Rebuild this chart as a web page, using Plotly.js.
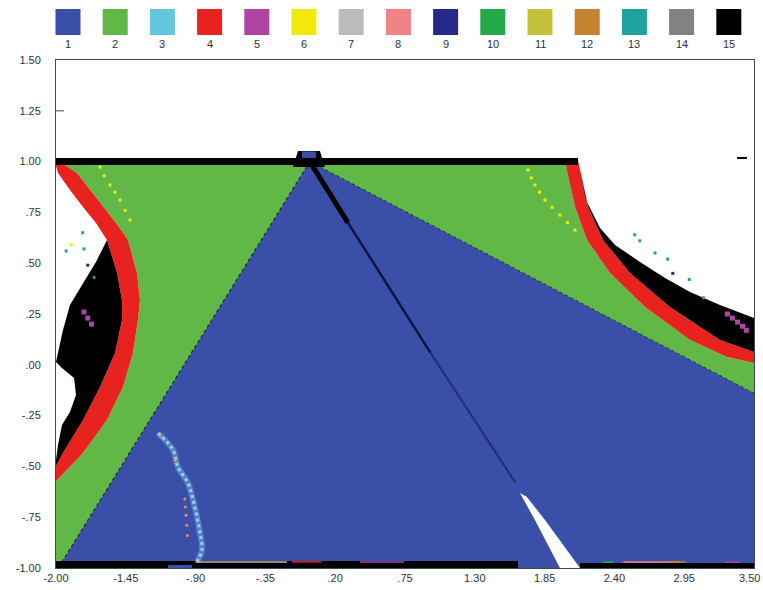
<!DOCTYPE html>
<html>
<head>
<meta charset="utf-8">
<script src="https://cdn.plot.ly/plotly-3.0.1.min.js"></script>
<style>
html,body{margin:0;padding:0;background:#fff;}
#chart{width:763px;height:590px;}
</style>
</head>
<body>
<div id="chart"></div>
<script>
// ---------- axis ticks ----------
const xTickVals = [-2, -1.45, -0.9, -0.35, 0.2, 0.75, 1.3, 1.85, 2.4, 2.95, 3.5];
const xTickText = ['-2.00', '-1.45', '-.90', '-.35', '.20', '.75', '1.30', '1.85', '2.40', '2.95', '3.50'];
const yTickVals = [-1, -0.75, -0.5, -0.25, 0, 0.25, 0.5, 0.75, 1, 1.25, 1.5];
const yTickText = ['-1.00', '-.75', '-.50', '-.25', '.00', '.25', '.50', '.75', '1.00', '1.25', '1.50'];

// ---------- class legend ----------
const classLabels = ['1','2','3','4','5','6','7','8','9','10','11','12','13','14','15'];
const classColors = ['#3a4fa8','#62b846','#62c6dc','#e8231f','#b044a4','#f2ea0a','#bbbbbb','#f08484',
                     '#252a8a','#22aa48','#c4c23a','#c4832e','#21a2a2','#828282','#000000'];

// ---------- region boundaries ----------
// left red arc (class 4)
const leftRedOuterX = [-2.00, -1.953, -1.835, -1.732, -1.630, -1.527, -1.433, -1.362, -1.338, -1.354, -1.393, -1.472, -1.598, -1.787, -1.968, -2.00];
const leftRedOuterY = [1.008, 0.993, 0.944, 0.860, 0.777, 0.698, 0.614, 0.452, 0.319, 0.220, 0.058, -0.109, -0.272, -0.434, -0.552, -0.572];
const leftRedInnerX = [-2.00, -1.984, -1.890, -1.787, -1.685, -1.598, -1.519, -1.480, -1.480, -1.535, -1.653, -1.787, -1.945, -2.00];
const leftRedInnerY = [0.978, 0.944, 0.860, 0.777, 0.698, 0.614, 0.452, 0.319, 0.220, 0.058, -0.109, -0.272, -0.434, -0.498];
// left black (class 15) outer boundary (white side)
const leftBlackX = [-1.598, -1.685, -1.795, -1.890, -1.945, -1.984, -2.00, -1.953, -1.858, -1.842, -1.890, -1.953, -1.984, -2.00];
const leftBlackY = [0.614, 0.506, 0.393, 0.294, 0.171, 0.048, 0.014, -0.016, -0.065, -0.149, -0.232, -0.296, -0.395, -0.469];
// right red arc (class 4)
const rightRedOuterX = [2.011, 2.026, 2.090, 2.184, 2.365, 2.641, 2.996, 3.287, 3.50];
const rightRedOuterY = [1.008, 0.959, 0.777, 0.614, 0.452, 0.284, 0.122, 0.038, 0.009];
const rightRedInnerX = [2.113, 2.129, 2.192, 2.310, 2.523, 2.838, 3.232, 3.50];
const rightRedInnerY = [1.008, 0.959, 0.777, 0.614, 0.452, 0.284, 0.122, 0.063];
// right black (class 15) outer boundary
const rightBlackX = [2.129, 2.176, 2.287, 2.405, 2.602, 2.799, 2.996, 3.232, 3.50];
const rightBlackY = [0.959, 0.811, 0.673, 0.590, 0.506, 0.427, 0.358, 0.294, 0.230];
// blue wedge (class 1)
const blueX = [0.0, 3.5, 3.5, -1.982];
const blueY = [1.0, -0.14, -1.0, -1.0];
// top black band at y = 1
const topBandX = [-2.0, 2.113];
const topBandY = [0.983, 1.018];
// apex cap
const apexCapX = [-0.133, -0.093, 0.080, 0.119];
const apexCapY = [0.973, 1.052, 1.052, 0.973];
const apexBlueX = [-0.062, 0.048];
const apexBlueY = [1.018, 1.050];
// dark diagonal
const diagX = [0.0, 0.30, 0.95, 1.62];
const diagY = [1.0, 0.70, 0.06, -0.58];
// white streak
const streakX = [1.656, 1.711, 1.853, 2.129, 1.971, 1.774];
const streakY = [-0.631, -0.651, -0.764, -1.0, -1.0, -0.764];
// bottom black band
const bottomLeftX = [-2.0, 1.640];
const bottomLeftY = [-1.0, -0.966];
const bottomRightX = [2.129, 3.5];
const bottomRightY = [-1.0, -0.976];
const bottomBlueX = [-1.117, -0.928];
const bottomBlueY = [-1.0, -0.985];
// light cyan streak (class 3)
const cyanX = [-1.196, -1.078, -1.039, -0.960, -0.920, -0.889, -0.865, -0.850, -0.889];
const cyanY = [-0.336, -0.419, -0.503, -0.582, -0.665, -0.749, -0.828, -0.911, -0.970];
const orangeDotX = [-1.18, -1.06, -0.985, -0.98, -0.975, -0.97, -0.965];
const orangeDotY = [-0.35, -0.47, -0.66, -0.70, -0.74, -0.79, -0.84];
// yellow dotted traces (class 6)
const yellowLX = [-1.653, -1.62, -1.574, -1.535, -1.496, -1.455, -1.417];
const yellowLY = [0.973, 0.93, 0.885, 0.85, 0.811, 0.76, 0.713];
const yellowRX = [1.719, 1.745, 1.774, 1.81, 1.853, 1.91, 1.971, 2.03, 2.090];
const yellowRY = [0.959, 0.92, 0.885, 0.85, 0.811, 0.775, 0.737, 0.70, 0.663];
// magenta patches (class 5)
const magentaX = [-1.78, -1.75, -1.72, 3.29, 3.33, 3.37, 3.41, 3.44];
const magentaY = [0.26, 0.23, 0.20, 0.25, 0.23, 0.21, 0.19, 0.17];
// scattered dots in the white area
const dotX = [-1.88, -1.79, -1.78, -1.75, -1.92, -1.70, 2.56, 2.60, 2.72, 2.82, 2.86, 2.99, 3.10];
const dotY = [0.59, 0.65, 0.57, 0.49, 0.56, 0.43, 0.64, 0.61, 0.55, 0.52, 0.45, 0.42, 0.33];
const dotC = ['#f2ea0a','#21a2a2','#21a2a2','#252a8a','#21a2a2','#22aa48','#21a2a2','#21a2a2','#21a2a2','#21a2a2','#252a8a','#21a2a2','#21a2a2'];
// coloured runs along the bottom band
const runX0 = [-0.90, -0.14, 0.395, 2.31, 2.47, 2.85, 3.27];
const runX1 = [-0.18, 0.088, 0.742, 2.39, 2.92, 2.96, 3.39];
const runC  = ['#c8b890', '#e8231f', '#b044a4', '#22aa48', '#f08484', '#c4832e', '#b044a4'];

// ---------- build traces ----------
function poly(xs, ys, color) {
  return {x: xs.concat([xs[0]]), y: ys.concat([ys[0]]), type: 'scatter', mode: 'lines',
          fill: 'toself', fillcolor: color, line: {width: 0, color: color},
          hoverinfo: 'skip', showlegend: false};
}
function rect(xr, yr, color) {
  return poly([xr[0], xr[1], xr[1], xr[0]], [yr[0], yr[0], yr[1], yr[1]], color);
}
function rev(a) { return a.slice().reverse(); }

const traces = [];
// green background region
traces.push(poly(
  leftRedOuterX.concat([-2.0, 3.5]).concat(rev(rightRedOuterX)),
  leftRedOuterY.concat([-1.0, -1.0]).concat(rev(rightRedOuterY)),
  classColors[1]));
// blue wedge
traces.push(poly(blueX, blueY, classColors[0]));
// blue/green boundary edges
traces.push({x: [blueX[0], blueX[3]], y: [blueY[0], blueY[3]], type: 'scatter', mode: 'lines',
  line: {color: '#123018', width: 1.2, dash: 'dot'}, hoverinfo: 'skip', showlegend: false});
traces.push({x: [blueX[0], blueX[1]], y: [blueY[0], blueY[1]], type: 'scatter', mode: 'lines',
  line: {color: '#1c3a2a', width: 1, dash: 'dot'}, hoverinfo: 'skip', showlegend: false});
// white streak
traces.push(poly(streakX, streakY, '#ffffff'));
// red arcs
traces.push(poly(leftRedOuterX.concat(rev(leftRedInnerX)), leftRedOuterY.concat(rev(leftRedInnerY)), classColors[3]));
traces.push(poly(rightRedOuterX.concat(rev(rightRedInnerX)), rightRedOuterY.concat(rev(rightRedInnerY)), classColors[3]));
// black regions
traces.push(poly(leftBlackX.concat(rev(leftRedInnerX.slice(5))), leftBlackY.concat(rev(leftRedInnerY.slice(5))), '#000000'));
traces.push(poly(rightBlackX.concat(rev(rightRedInnerX.slice(1))), rightBlackY.concat(rev(rightRedInnerY.slice(1))), '#000000'));
// bands
traces.push(rect(topBandX, topBandY, '#000000'));
traces.push(rect(bottomLeftX, bottomLeftY, '#000000'));
traces.push(rect(bottomRightX, bottomRightY, '#000000'));
traces.push(rect(bottomBlueX, bottomBlueY, classColors[0]));
// apex
traces.push(poly(apexCapX, apexCapY, '#000000'));
traces.push(rect(apexBlueX, apexBlueY, classColors[0]));
// diagonal dark line
traces.push({x: diagX.slice(0, 2), y: diagY.slice(0, 2), type: 'scatter', mode: 'lines',
  line: {color: '#000000', width: 5}, hoverinfo: 'skip', showlegend: false});
traces.push({x: diagX.slice(1, 3), y: diagY.slice(1, 3), type: 'scatter', mode: 'lines',
  line: {color: '#0e1440', width: 2.5}, hoverinfo: 'skip', showlegend: false});
traces.push({x: diagX.slice(2, 4), y: diagY.slice(2, 4), type: 'scatter', mode: 'lines',
  line: {color: '#1f2f78', width: 2}, hoverinfo: 'skip', showlegend: false});
// cyan streak (speckled)
traces.push({x: cyanX, y: cyanY, type: 'scatter', mode: 'lines', line: {color: '#7fb8e8', width: 6, shape: 'spline'},
  opacity: 0.45, hoverinfo: 'skip', showlegend: false});
traces.push({x: cyanX, y: cyanY, type: 'scatter', mode: 'lines', line: {color: '#8fe0f4', width: 3, shape: 'spline', dash: 'dot'},
  opacity: 0.9, hoverinfo: 'skip', showlegend: false});
traces.push({x: orangeDotX, y: orangeDotY, type: 'scatter', mode: 'markers',
  marker: {color: '#e89050', size: 3}, hoverinfo: 'skip', showlegend: false});
// yellow dotted traces
traces.push({x: yellowLX.concat([null]).concat(yellowRX), y: yellowLY.concat([null]).concat(yellowRY),
  type: 'scatter', mode: 'markers', marker: {color: classColors[5], size: 3, symbol: 'square'},
  hoverinfo: 'skip', showlegend: false});
// magenta patches
traces.push({x: magentaX, y: magentaY, type: 'scatter', mode: 'markers',
  marker: {color: classColors[4], size: 5, symbol: 'square'}, hoverinfo: 'skip', showlegend: false});
// scattered dots
traces.push({x: dotX, y: dotY, type: 'scatter', mode: 'markers',
  marker: {color: dotC, size: 3, symbol: 'square'}, hoverinfo: 'skip', showlegend: false});
// coloured runs along bottom band
for (let i = 0; i < runX0.length; i++) {
  traces.push({x: [runX0[i], runX1[i]], y: [-0.97, -0.97], type: 'scatter', mode: 'lines',
    line: {color: runC[i], width: 1.5}, hoverinfo: 'skip', showlegend: false});
}
// small marks
traces.push({x: [3.366, 3.445], y: [1.018, 1.018], type: 'scatter', mode: 'lines',
  line: {color: '#000000', width: 2}, hoverinfo: 'skip', showlegend: false});
traces.push({x: [-2.0, -1.937], y: [1.25, 1.25], type: 'scatter', mode: 'lines',
  line: {color: '#3a4a55', width: 1}, hoverinfo: 'skip', showlegend: false});

// ---------- legend as shapes/annotations ----------
const plotL = 56, plotW = 698, plotT = 60, plotH = 508;
function px2paper(px) { return (px - plotL) / plotW; }
function py2paper(py) { return (plotT + plotH - py) / plotH; }
const shapes = [], annotations = [];
classLabels.forEach((lab, i) => {
  const cx = 68 + 47.2 * i;
  shapes.push({type: 'rect', xref: 'paper', yref: 'paper',
    x0: px2paper(cx - 12.5), x1: px2paper(cx + 12.5), y0: py2paper(35), y1: py2paper(9),
    fillcolor: classColors[i], line: {width: 0}});
  annotations.push({xref: 'paper', yref: 'paper', x: px2paper(cx), y: py2paper(44),
    text: lab, showarrow: false, xanchor: 'center', yanchor: 'middle',
    font: {family: 'Liberation Sans, Arial, sans-serif', size: 11, color: '#2a3440'}});
});

// last x tick label drawn as an annotation, nudged inward so it stays inside the page
const xTickTextShown = xTickText.slice(0, -1).concat(['']);
annotations.push({xref: 'x', yref: 'paper', x: xTickVals[xTickVals.length - 1], y: 0,
  text: xTickText[xTickText.length - 1], showarrow: false, xanchor: 'right', yanchor: 'top',
  xshift: 8, yshift: -2,
  font: {family: 'Liberation Sans, Arial, sans-serif', size: 11, color: '#2a3440'}});

const layout = {
  width: 763, height: 590,
  margin: {l: plotL, r: 763 - plotL - plotW, t: plotT, b: 590 - plotT - plotH, pad: 0},
  paper_bgcolor: '#ffffff', plot_bgcolor: '#ffffff',
  showlegend: false,
  font: {family: 'Liberation Sans, Arial, sans-serif', size: 11, color: '#2a3440'},
  xaxis: {range: [-2, 3.5], tickmode: 'array', tickvals: xTickVals, ticktext: xTickTextShown,
    showgrid: false, zeroline: false, showline: true, mirror: true, linecolor: '#3a4a55', linewidth: 1,
    ticks: '', fixedrange: true, ticklabeloverflow: 'allow', tickfont: {size: 11, color: '#2a3440'}},
  yaxis: {range: [-1, 1.5], tickmode: 'array', tickvals: yTickVals, ticktext: yTickText,
    showgrid: false, zeroline: false, showline: true, mirror: true, linecolor: '#3a4a55', linewidth: 1,
    ticks: '', ticklabelstandoff: 12, fixedrange: true, ticklabeloverflow: 'allow', tickfont: {size: 11, color: '#2a3440'}},
  shapes: shapes, annotations: annotations
};

Plotly.newPlot('chart', traces, layout, {displayModeBar: false, staticPlot: true});
</script>
</body>
</html>
